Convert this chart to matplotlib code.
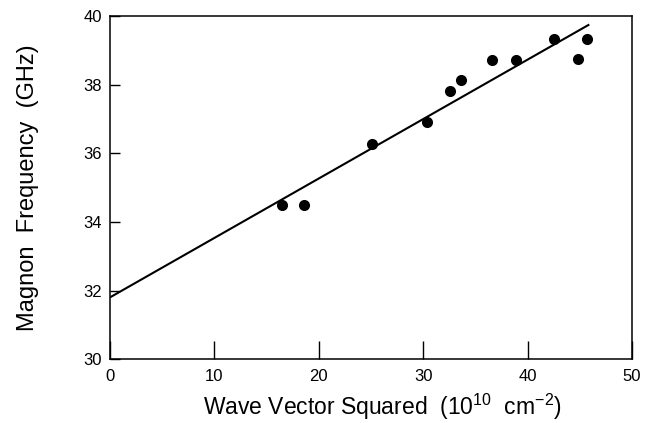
import matplotlib
matplotlib.use('Agg')
import matplotlib.pyplot as plt
import numpy as np

plt.rcParams.update({
    'font.family': ['Liberation Sans', 'DejaVu Sans'],
    'mathtext.default': 'regular',
})

# measured points (wave vector squared, magnon frequency)
k2 = [16.5, 18.6, 25.1, 30.4, 32.6, 33.6, 36.6, 38.9, 42.5, 44.8, 45.7]
freq = [34.50, 34.49, 36.27, 36.90, 37.83, 38.13, 38.73, 38.71, 39.34, 38.76, 39.34]

# linear fit shown in the figure
fit_intercept = 31.80
fit_slope = 0.1733
fit_xmax = 45.9

fig = plt.figure(figsize=(6.47, 4.23), dpi=100)
ax = fig.add_axes([0.170, 0.151, 0.807, 0.811])

xf = np.array([0.0, fit_xmax])
ax.plot(xf, fit_intercept + fit_slope * xf, color='black', lw=1.5, solid_capstyle='butt')
ax.plot(k2, freq, 'o', color='black', markersize=8, markeredgewidth=0)

ax.set_xlim(0, 50)
ax.set_ylim(30, 40)
ax.set_xticks([0, 10, 20, 30, 40, 50])
ax.set_yticks([30, 32, 34, 36, 38, 40])
ax.tick_params(axis='x', direction='in', length=13, width=1, labelsize=12, pad=7)
ax.tick_params(axis='y', direction='in', length=7, width=1, labelsize=12, pad=6)
for s in ax.spines.values():
    s.set_linewidth(1.1)

ax.set_xlabel('Wave Vector Squared  (10$^{10}$  cm$^{-2}$)', fontsize=16.5)
ax.set_ylabel('Magnon  Frequency  (GHz)', fontsize=17)
ax.xaxis.set_label_coords(0.521, -0.096)
ax.yaxis.set_label_coords(-0.136, 0.5)

fig.savefig('out.png', dpi=100)
